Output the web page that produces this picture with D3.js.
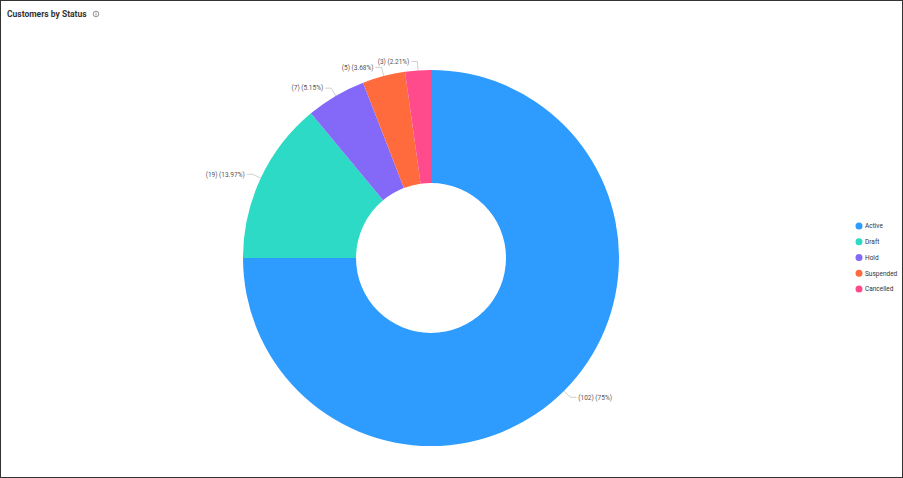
<!DOCTYPE html>
<html>
<head>
<meta charset="utf-8">
<title>Customers by Status</title>
<script src="https://cdn.jsdelivr.net/npm/d3@7"></script>
<style>
    html, body { margin: 0; padding: 0; background: #fff; }
    svg { display: block; font-family: Roboto, sans-serif; }
    .label { font-size: 6.5px; fill: #555; }
    .legend-text { font-size: 6.5px; fill: #333; }
    .title { font-size: 8.5px; font-weight: 700; fill: #333; }
</style>
</head>
<body>
<div id="chart"></div>
<script>
var categories = ["Active", "Draft", "Hold", "Suspended", "Cancelled"];
var counts     = [102, 19, 7, 5, 3];
var colors     = ["#2e9bff", "#2ddac5", "#8468f7", "#ff6b3d", "#ff4b8b"];

var width  = 903;
var height = 478;
var cx = 431, cy = 258;
var outerR = 188, innerR = 75;

var svg = d3.select("#chart").append("svg")
    .attr("width", width)
    .attr("height", height);

// frame
svg.append("rect")
    .attr("x", 0.5).attr("y", 0.5)
    .attr("width", width - 1).attr("height", height - 1)
    .attr("fill", "#fff")
    .attr("stroke", "#333");

svg.append("text")
    .attr("class", "title")
    .attr("x", 7).attr("y", 17)
    .text("Customers by Status");

// info icon
var info = svg.append("g").attr("transform", "translate(96,14)");
info.append("circle").attr("r", 2.8).attr("fill", "none").attr("stroke", "#666").attr("stroke-width", 0.7);
info.append("line").attr("y1", -0.6).attr("y2", 1.6).attr("stroke", "#666").attr("stroke-width", 0.7);
info.append("circle").attr("cy", -1.4).attr("r", 0.4).attr("fill", "#666");

var total = d3.sum(counts);
var pct = d3.format(".2~f");
var color = d3.scaleOrdinal().domain(categories).range(colors);

var pie = d3.pie().sort(null).value(function(d) { return d; });
var arc = d3.arc().innerRadius(innerR).outerRadius(outerR);
var slices = pie(counts);

var g = svg.append("g").attr("transform", "translate(" + cx + "," + cy + ")");

g.selectAll(".slice")
    .data(slices)
    .enter()
    .append("path")
    .attr("class", "slice")
    .attr("d", arc)
    .attr("fill", function(d, i) { return color(categories[i]); });

// point on a circle of radius r at the middle of the slice
function midPoint(d, r) {
    var a = (d.startAngle + d.endAngle) / 2;
    return [Math.sin(a) * r, -Math.cos(a) * r];
}

function side(d) {
    return midPoint(d, 1)[0] > 0 ? 1 : -1;
}

g.selectAll(".leader")
    .data(slices)
    .enter()
    .append("polyline")
    .attr("class", "leader")
    .attr("fill", "none")
    .attr("stroke", "#bbb")
    .attr("stroke-width", 0.7)
    .attr("points", function(d) {
        var p1 = midPoint(d, outerR);
        var p2 = midPoint(d, outerR + 9);
        return [p1, p2, [p2[0] + side(d) * 6, p2[1]]].join(" ");
    });

g.selectAll(".label")
    .data(slices)
    .enter()
    .append("text")
    .attr("class", "label")
    .attr("x", function(d) { return midPoint(d, outerR + 9)[0] + side(d) * 8; })
    .attr("y", function(d) { return midPoint(d, outerR + 9)[1]; })
    .attr("dy", "0.35em")
    .attr("text-anchor", function(d) { return side(d) > 0 ? "start" : "end"; })
    .text(function(d) { return "(" + d.value + ") (" + pct(d.value / total * 100) + "%)"; });

// legend
var legendY = d3.scalePoint().domain(categories).range([226, 289]);

var legend = svg.selectAll(".legend")
    .data(categories)
    .enter()
    .append("g")
    .attr("class", "legend")
    .attr("transform", function(d) { return "translate(859," + legendY(d) + ")"; });

legend.append("circle")
    .attr("r", 3.5)
    .attr("fill", function(d) { return color(d); });

legend.append("text")
    .attr("class", "legend-text")
    .attr("x", 6)
    .attr("dy", "0.35em")
    .text(function(d) { return d; });
</script>
</body>
</html>
